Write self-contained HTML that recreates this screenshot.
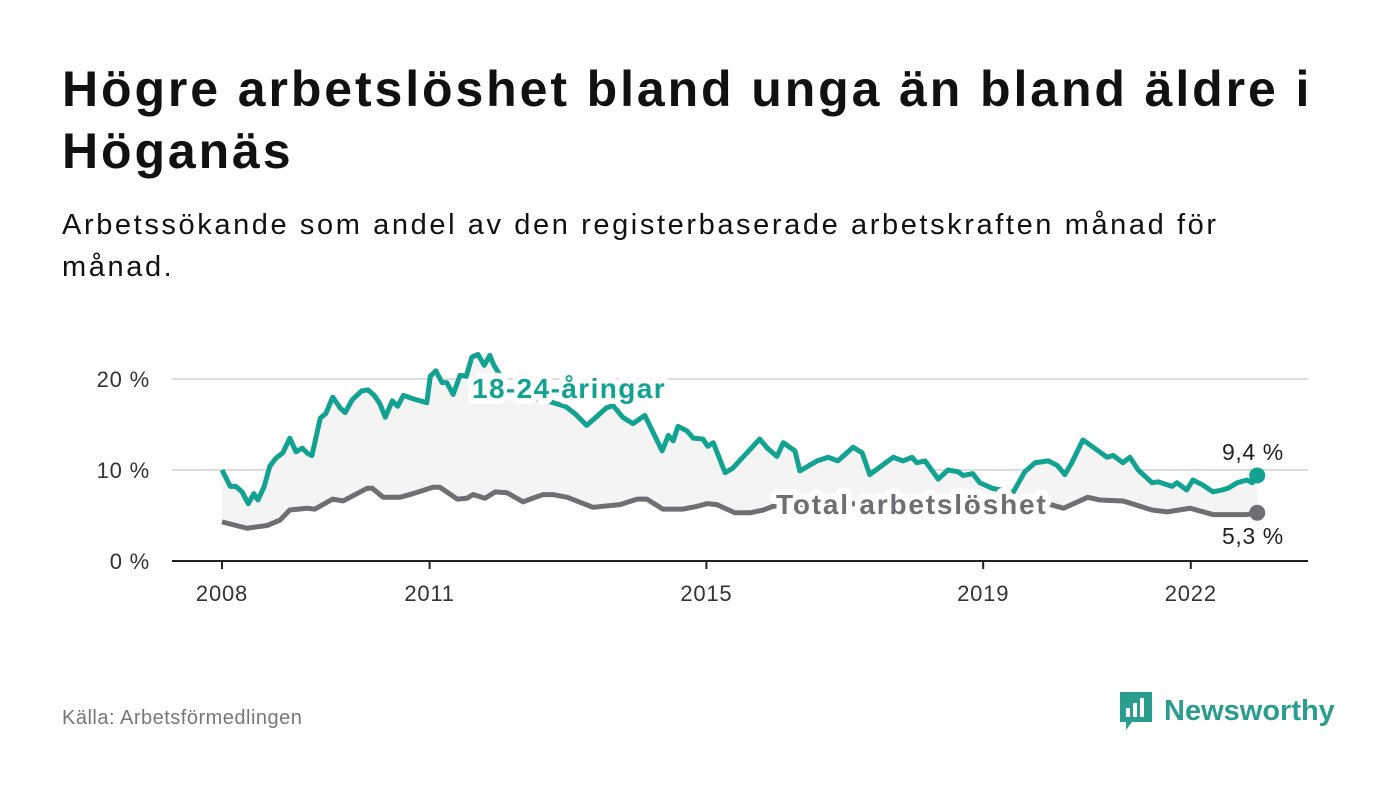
<!DOCTYPE html>
<html><head><meta charset="utf-8">
<style>
body{margin:0;width:1400px;height:794px;background:#fff;font-family:"Liberation Sans",sans-serif;overflow:hidden;position:relative;color:#111}
h1{position:absolute;left:62px;top:58px;margin:0;font-size:50px;line-height:62px;font-weight:bold;width:1330px;letter-spacing:2.9px;color:#111}
.sub{position:absolute;left:62px;top:204px;margin:0;font-size:29px;line-height:42px;width:1220px;letter-spacing:2.6px;color:#111}
.src{position:absolute;left:62px;top:707px;font-size:20px;color:#777;letter-spacing:0.5px}
.logo{position:absolute;left:1118px;top:690px;display:flex;align-items:center;gap:10px;color:#2a9d8f;font-size:29px;font-weight:bold}
</style></head><body>
<h1>Högre arbetslöshet bland unga än bland äldre i Höganäs</h1>
<p class="sub">Arbetssökande som andel av den registerbaserade arbetskraften månad för månad.</p>
<svg id="chart" width="1400" height="794" style="position:absolute;left:0;top:0"></svg>
<div class="src">Källa: Arbetsförmedlingen</div>
<div class="logo">
<svg width="36" height="42" viewBox="0 0 36 42"><path d="M2 2h32v30H14l-6 8v-8H2z" fill="#2a9d8f"/><rect x="8" y="18" width="4" height="9" fill="#fff"/><rect x="15" y="13" width="4" height="14" fill="#fff"/><rect x="22" y="8" width="4" height="19" fill="#fff"/></svg>
<span>Newsworthy</span></div>
<script>
const youthDates=[2008.00,2008.12,2008.20,2008.29,2008.38,2008.46,2008.52,2008.61,2008.69,2008.78,2008.88,2008.98,2009.07,2009.16,2009.24,2009.30,2009.42,2009.50,2009.60,2009.71,2009.78,2009.88,2010.02,2010.11,2010.20,2010.28,2010.36,2010.46,2010.54,2010.62,2010.77,2010.96,2011.01,2011.09,2011.18,2011.25,2011.34,2011.44,2011.53,2011.61,2011.70,2011.79,2011.87,2011.93,2012.09,2012.31,2012.52,2012.74,2012.96,2013.10,2013.27,2013.42,2013.55,2013.65,2013.79,2013.94,2014.11,2014.36,2014.45,2014.52,2014.59,2014.72,2014.81,2014.95,2015.02,2015.10,2015.27,2015.38,2015.77,2015.88,2016.02,2016.11,2016.28,2016.35,2016.60,2016.76,2016.90,2017.12,2017.25,2017.36,2017.61,2017.70,2017.84,2017.97,2018.04,2018.16,2018.35,2018.49,2018.64,2018.71,2018.85,2018.95,2019.13,2019.43,2019.60,2019.75,2019.94,2020.07,2020.18,2020.28,2020.44,2020.59,2020.79,2020.88,2021.02,2021.12,2021.24,2021.44,2021.53,2021.73,2021.80,2021.94,2022.03,2022.16,2022.32,2022.45,2022.54,2022.67,2022.81,2022.89,2022.96];
const youthValues=[10.0,8.2,8.2,7.6,6.3,7.4,6.7,8.2,10.4,11.3,11.9,13.5,12.0,12.4,11.8,11.6,15.7,16.2,18.0,16.8,16.3,17.7,18.7,18.8,18.2,17.3,15.8,17.6,17.0,18.2,17.8,17.4,20.3,20.9,19.6,19.6,18.3,20.4,20.3,22.4,22.7,21.5,22.6,21.5,19.5,17.6,17.9,17.5,17.0,16.2,14.9,15.9,16.8,17.1,15.8,15.1,16.0,12.1,13.8,13.2,14.8,14.3,13.5,13.4,12.6,13.0,9.7,10.2,13.4,12.4,11.5,13.0,12.1,9.9,11.0,11.4,11.0,12.5,11.9,9.5,10.9,11.4,11.0,11.4,10.8,11.0,9.0,10.0,9.8,9.4,9.6,8.6,8.0,7.5,9.8,10.8,11.0,10.5,9.5,10.8,13.3,12.5,11.4,11.6,10.8,11.4,10.0,8.6,8.7,8.2,8.6,7.8,8.9,8.4,7.6,7.8,8.0,8.6,8.9,8.6,9.4];
const totalDates=[2008.00,2008.36,2008.65,2008.84,2008.98,2009.23,2009.34,2009.60,2009.75,2010.10,2010.17,2010.33,2010.57,2010.76,2011.05,2011.15,2011.40,2011.54,2011.63,2011.80,2011.95,2012.12,2012.35,2012.49,2012.64,2012.78,2012.99,2013.36,2013.75,2014.00,2014.14,2014.37,2014.66,2014.86,2015.01,2015.15,2015.41,2015.63,2015.82,2015.96,2016.21,2017.08,2017.80,2018.52,2019.24,2019.97,2020.16,2020.51,2020.69,2021.02,2021.44,2021.66,2021.99,2022.32,2022.61,2022.81,2022.96];
const totalValues=[4.3,3.6,3.9,4.5,5.6,5.8,5.7,6.8,6.6,8.0,8.0,7.0,7.0,7.4,8.1,8.1,6.8,6.9,7.3,6.9,7.6,7.5,6.5,6.9,7.3,7.3,7.0,5.9,6.2,6.8,6.8,5.7,5.7,6.0,6.3,6.2,5.3,5.3,5.6,6.0,6.2,6.3,6.0,6.2,6.0,6.2,5.8,7.0,6.7,6.6,5.6,5.4,5.8,5.1,5.1,5.1,5.3];
const xTicks=[2008,2011,2015,2019,2022];
const yTicks=[0,10,20];
const yTickLabels=["0 %","10 %","20 %"];

const NS="http://www.w3.org/2000/svg";
const svg=document.getElementById('chart');
const X=d=>222+(d-2008)*69.2;
const Y=v=>561-v*9.1;
function el(t,a){const e=document.createElementNS(NS,t);for(const k in a)e.setAttribute(k,a[k]);svg.appendChild(e);return e;}

yTicks.forEach((t,i)=>{
  if(t>0){const g=el('line',{x1:172,x2:1308,y1:Y(t),y2:Y(t),stroke:'#ddd','stroke-width':2});
  
  }
  const tx=el('text',{x:150,y:Y(t)+8,'text-anchor':'end','font-size':22,'letter-spacing':0.8,fill:'#333','font-family':'Liberation Sans, sans-serif'});
  tx.textContent=yTickLabels[i];
  
  
});
let pts=youthDates.map((d,i)=>X(d)+','+Y(youthValues[i]));
for(let i=totalDates.length-1;i>=0;i--)pts.push(X(totalDates[i])+','+Y(totalValues[i]));
const band=el('polygon',{points:pts.join(' '),fill:'#f4f4f4'});



const ax=el('line',{x1:172,x2:1308,y1:561,y2:561,stroke:'#222','stroke-width':2});


xTicks.forEach(t=>{
  const tk=el('line',{x1:X(t),x2:X(t),y1:561,y2:569,stroke:'#222','stroke-width':2});
  
  
  const tx=el('text',{x:X(t),y:601,'text-anchor':'middle','font-size':22,'letter-spacing':0.8,fill:'#333','font-family':'Liberation Sans, sans-serif'});
  tx.textContent=t;
  
  
});
const lt=el('polyline',{points:totalDates.map((d,i)=>X(d)+','+Y(totalValues[i])).join(' '),fill:'none',stroke:'#6e6e73','stroke-width':5,'stroke-linejoin':'round'});


const ly=el('polyline',{points:youthDates.map((d,i)=>X(d)+','+Y(youthValues[i])).join(' '),fill:'none',stroke:'#12a292','stroke-width':5,'stroke-linejoin':'round'});



function label(txt,x,y,col,name,size,bold,ls){
  const t=el('text',{x:x,y:y,'font-size':size,'font-weight':bold?'bold':'normal','letter-spacing':ls,fill:col,stroke:'#fff','stroke-width':bold?12:0,'paint-order':'stroke','stroke-linejoin':'round','font-family':'Liberation Sans, sans-serif'});
  t.textContent=txt;
  
  
}
label('18-24-åringar',472,398,'#12a292','youth-series-label',28,true,1.4);
label('Total arbetslöshet',776,514,'#6e6e73','total-series-label',28,true,1.8);
const ny=youthValues.length-1, nt=totalValues.length-1;
const dy=el('circle',{cx:X(youthDates[ny]),cy:Y(youthValues[ny]),r:8,fill:'#12a292'});


const dt=el('circle',{cx:X(totalDates[nt]),cy:Y(totalValues[nt]),r:8,fill:'#6e6e73'});


label(youthValues[ny].toString().replace('.',',')+' %',1222,460,'#222','youth-end-value',23,false,0.6);
label(totalValues[nt].toString().replace('.',',')+' %',1222,544,'#222','total-end-value',23,false,0.6);
</script>
</body></html>
